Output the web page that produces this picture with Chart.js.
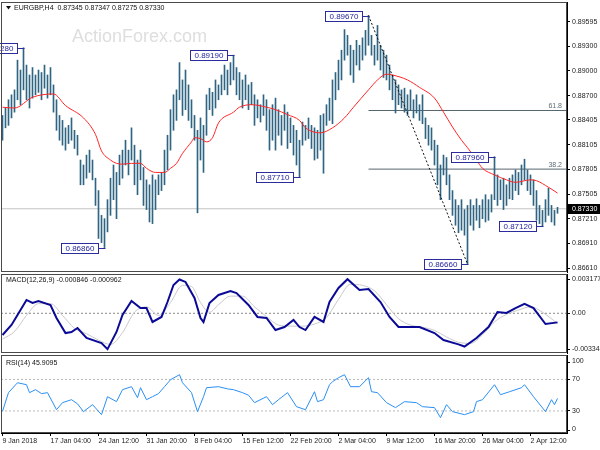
<!DOCTYPE html>
<html>
<head>
<meta charset="utf-8">
<title>EURGBP H4</title>
<script src="https://cdn.jsdelivr.net/npm/chart.js@4.4.1/dist/chart.umd.min.js"></script>
<style>
html,body{margin:0;padding:0;background:#fff;}
#wrap{position:relative;width:600px;height:450px;overflow:hidden;background:#fff;}
canvas{position:absolute;left:0;display:block;}
</style>
</head>
<body>
<div id="wrap">
<canvas id="cMain" width="600" height="273" style="top:0px"></canvas>
<canvas id="cMacd" width="600" height="82" style="top:273px"></canvas>
<canvas id="cRsi" width="600" height="95" style="top:355px"></canvas>
</div>
<script>
// ---------------- data ----------------
const symbolTitle = 'EURGBP,H4  0.87345 0.87347 0.87275 0.87330';
const watermark = 'ActionForex.com';

const xTickIdx = [0,16,32,48,64,80,96,112,128,144,160,176];
const xTickLabels = ['9 Jan 2018','17 Jan 04:00','24 Jan 12:00','31 Jan 20:00','8 Feb 04:00','15 Feb 12:00','22 Feb 20:00','2 Mar 04:00','9 Mar 12:00','16 Mar 20:00','26 Mar 04:00','2 Apr 12:00'];

const priceTicks = [0.89595,0.89300,0.89000,0.88700,0.88405,0.88105,0.87805,0.87505,0.87210,0.86910,0.86610];

const highs = [
0.8846,0.8855,0.8865,0.8871,0.8877,0.8913,0.8901,0.8928,0.8907,0.8895,
0.8904,0.8895,0.8901,0.8898,0.8907,0.8895,0.8904,0.8883,0.8865,0.8846,
0.8840,0.8831,0.8834,0.8843,0.8828,0.8822,0.8792,0.8786,0.8798,0.8804,
0.8792,0.8770,0.8755,0.8725,0.8721,0.8744,0.8770,0.8786,0.8777,0.8798,
0.8804,0.8816,0.8804,0.8831,0.8810,0.8792,0.8804,0.8783,0.8768,0.8762,
0.8774,0.8768,0.8774,0.8777,0.8804,0.8822,0.8853,0.8871,0.8877,0.8910,
0.8889,0.8901,0.8883,0.8865,0.8846,0.8828,0.8843,0.8834,0.8871,0.8879,
0.8874,0.8889,0.8883,0.8895,0.8907,0.8901,0.8910,0.8919,0.8904,0.8898,
0.8889,0.8895,0.8883,0.8886,0.8871,0.8865,0.8859,0.8871,0.8865,0.8853,
0.8859,0.8867,0.8853,0.8846,0.8859,0.8850,0.8843,0.8834,0.8828,0.8816,
0.8838,0.8834,0.8843,0.8834,0.8831,0.8828,0.8846,0.8848,0.8859,0.8867,
0.8889,0.8898,0.8913,0.8925,0.8950,0.8943,0.8931,0.8925,0.8937,0.8931,
0.8940,0.8949,0.8967,0.8943,0.8931,0.8955,0.8931,0.8925,0.8919,0.8907,
0.8895,0.8889,0.8883,0.8877,0.8879,0.8871,0.8877,0.8865,0.8871,0.8859,
0.8871,0.8843,0.8834,0.8831,0.8816,0.8810,0.8786,0.8798,0.8795,0.8774,
0.8755,0.8744,0.8737,0.8744,0.8732,0.8737,0.8744,0.8737,0.8745,0.8737,
0.8744,0.8750,0.8744,0.8750,0.8796,0.8774,0.8768,0.8770,0.8762,0.8770,
0.8774,0.8780,0.8777,0.8786,0.8793,0.8780,0.8774,0.8768,0.8755,0.8737,
0.8731,0.8744,0.8758,0.8737,0.8731,0.87347];
const lows = [
0.8816,0.8831,0.8834,0.8843,0.8850,0.8865,0.8859,0.8877,0.8865,0.8855,
0.8867,0.8871,0.8874,0.8865,0.8879,0.8867,0.8871,0.8850,0.8828,0.8816,
0.8810,0.8804,0.8812,0.8816,0.8806,0.8798,0.8762,0.8762,0.8770,0.8777,
0.8768,0.8737,0.8697,0.8692,0.8686,0.8705,0.8725,0.8744,0.8721,0.8762,
0.8770,0.8786,0.8774,0.8792,0.8762,0.8750,0.8768,0.8737,0.8732,0.8717,
0.8715,0.8732,0.8750,0.8755,0.8762,0.8780,0.8804,0.8828,0.8840,0.8865,
0.8846,0.8853,0.8840,0.8831,0.8816,0.8728,0.8792,0.8777,0.8822,0.8853,
0.8846,0.8855,0.8865,0.8871,0.8877,0.8871,0.8883,0.8889,0.8871,0.8865,
0.8855,0.8865,0.8853,0.8859,0.8834,0.8843,0.8838,0.8846,0.8828,0.8804,
0.8816,0.8804,0.8822,0.8810,0.8828,0.8806,0.8813,0.8798,0.8786,0.8771,
0.8810,0.8816,0.8818,0.8806,0.8792,0.8794,0.8804,0.8776,0.8834,0.8840,
0.8836,0.8865,0.8877,0.8889,0.8913,0.8919,0.8895,0.8886,0.8907,0.8901,
0.8913,0.8919,0.8931,0.8919,0.8907,0.8913,0.8901,0.8892,0.8889,0.8877,
0.8865,0.8849,0.8859,0.8855,0.8850,0.8846,0.8853,0.8843,0.8849,0.8840,
0.8836,0.8818,0.8810,0.8804,0.8786,0.8762,0.8744,0.8774,0.8762,0.8744,
0.8725,0.8713,0.8704,0.8707,0.8701,0.8666,0.8713,0.8707,0.8719,0.8710,
0.8721,0.8717,0.8719,0.8729,0.8744,0.8737,0.8744,0.8732,0.8737,0.8745,
0.8744,0.8755,0.8750,0.8762,0.8768,0.8755,0.8750,0.8737,0.8719,0.8715,
0.8712,0.8717,0.8725,0.8717,0.8713,0.87275];
const lastClose = 0.87330;

const maIdx = [0,4,10,17,21,27,31,33,36,38,40,43,46,48,51,54,56,58,60,63,64,66,68,70,72,77,79,83,88,91,95,99,101,106,110,114,117,122,125,128,130,135,139,144,147,150,153,155,158,160,164,168,171,176,178,182,185];
const maVal = [0.8856,0.8855,0.8868,0.8872,0.8858,0.8843,0.8823,0.8803,0.8792,0.8788,0.8787,0.8788,0.8788,0.8782,0.8777,0.8777,0.8782,0.8788,0.8800,0.8814,0.8819,0.8818,0.8814,0.8819,0.8837,0.8850,0.8856,0.8859,0.8856,0.8853,0.8847,0.8840,0.8831,0.8825,0.8831,0.8843,0.8856,0.8877,0.8889,0.8896,0.8895,0.8889,0.8880,0.8867,0.8850,0.8832,0.8816,0.8807,0.8792,0.8782,0.8774,0.8768,0.8765,0.8768,0.8767,0.8759,0.8752];

const swingIdx = [7,34,77,99,122,155,164,180];
const swingPrice = [0.89280,0.86860,0.89190,0.87710,0.89670,0.86660,0.87960,0.87120];

const fibFromIdx = 122, fibToIdx = 155;
const fibHigh = 0.89670, fibLow = 0.86660;
const fibLevelNames = ['61.8','38.2'];
const fibLevelPrices = [0.88520,0.87810];

const macdIdx = [0,3,5,8,10,12,16,18,21,23,25,28,33,35,38,40,43,46,48,50,53,55,57,59,61,64,66,67,69,72,76,78,82,85,88,91,94,97,99,101,104,107,109,112,115,119,122,126,129,132,136,139,144,147,152,154,158,162,165,168,171,174,177,181,185];
const macdVal = [-0.00202,-0.00109,-0.00016,0.00124,0.00096,0.00115,0.00077,-0.00044,-0.00184,-0.00174,-0.00137,-0.00230,-0.00277,-0.003344,-0.00174,-0.00016,0.00115,0.00049,0.00049,-0.00081,-0.00034,0.00105,0.00264,0.00315,0.00292,0.00143,-0.00044,-0.00081,0.00096,0.00171,0.00208,0.00189,0.00077,-0.00034,-0.00044,-0.00156,-0.00128,-0.00062,-0.00128,-0.00156,-0.00034,-0.00081,0.00105,0.00236,0.003177,0.00217,0.00226,0.00105,-0.00034,-0.00128,-0.00128,-0.00128,-0.00184,-0.00249,-0.00290,-0.00310,-0.00230,-0.00128,0.00012,0.00003,0.00049,0.00087,0.00049,-0.00100,-0.000846];
const sigIdx = [0,4,8,12,16,20,24,28,32,36,40,44,48,52,56,60,63,66,69,72,76,80,84,88,92,96,100,104,108,112,116,120,124,128,132,136,140,144,148,152,156,160,164,168,172,176,180,185];
const sigVal = [-0.0024,-0.0017,-0.0002,0.0009,0.0009,-0.0002,-0.0014,-0.0019,-0.0025,-0.0029,-0.0018,0.0001,0.0006,-0.0002,0.0010,0.0026,0.0025,0.0010,0.0001,0.0008,0.0016,0.0016,0.0006,-0.0003,-0.0011,-0.0012,-0.0012,-0.0010,-0.0004,0.0013,0.0027,0.0026,0.0021,0.0008,-0.0005,-0.0011,-0.0013,-0.0016,-0.0022,-0.0027,-0.0028,-0.0020,-0.0008,-0.0001,0.0003,0.0006,0.0001,-0.000962];
const macdTicks = [0.003177,0,-0.003344];
const macdTickLabels = ['0.003177','0.00','-0.003344'];
const macdTitle = 'MACD(12,26,9) -0.000846 -0.000962';

const rsiIdx = [0,2,5,8,9,11,13,15,18,20,23,25,27,30,33,35,38,40,43,45,46,48,50,52,54,56,59,60,63,65,67,68,72,75,77,80,82,84,88,90,92,95,98,101,104,105,107,109,110,112,114,116,119,122,123,125,128,131,134,138,140,144,146,148,150,154,157,158,160,164,166,169,173,174,177,181,183,184,185];
const rsiVal = [29.5,53.2,65.8,63.3,53.2,57.0,52,53.2,31.6,40.5,44.3,39,29.1,38.0,25.3,48.1,41.8,57.0,60.8,46.8,59.5,44.3,48.1,52,60.8,69.6,76.0,65.8,53.2,29.1,48.1,59.5,60.8,58,57.0,53.2,50,40.5,48.1,38.0,44.3,53.2,35.4,31.6,54.4,41.8,44.3,63.3,67.1,72.2,76.0,60.8,60.8,72.2,54.4,53.2,40.5,34.2,41.8,40.5,35.4,34.2,21.5,38.0,29.1,25.3,29.1,41.8,44.3,63.3,50.6,54.4,59.5,63.3,48.1,29.1,44.3,38.0,45.9095];
const rsiLevels = [70,30];
const rsiEdgeLabels = ['100','0'];
const rsiTitle = 'RSI(14) 45.9095';

// ---------------- setup ----------------
const F = '"Liberation Sans", Arial, sans-serif';
const X_MIN = -0.5, X_MAX = 566 / 3 - 0.5;
const pts = (xs, ys) => xs.map((x, k) => ({x: x, y: ys[k]}));
const hline = (y, x0, x1) => [{x: x0, y: y}, {x: x1, y: y}];
const barData = highs.map((h, i) => ({x: i, y: [lows[i], h]}));

const frame = {
  id: 'frame',
  afterDraw(chart) {
    const a = chart.chartArea, c = chart.ctx;
    c.save();
    c.strokeStyle = '#4a4a4a'; c.lineWidth = 1;
    c.strokeRect(Math.round(a.left) + 0.5, Math.round(a.top) + 0.5, Math.round(a.right - a.left) - 1, Math.round(a.bottom - a.top) - 1);
    c.restore();
  }
};

const noPad = s => { s.paddingTop = 0; s.paddingBottom = 0; s.paddingLeft = 0; s.paddingRight = 0; };
const yAxisBase = (extra) => Object.assign({
  type: 'linear', position: 'right',
  afterFit: s => { s.width = 33; noPad(s); },
  grid: {drawOnChartArea: false, drawTicks: true, tickLength: 3, color: '#000'},
  border: {display: true, color: '#000'},
}, extra);
const tickFont = {size: 7, family: F};

const mainOverlay = {
  id: 'mainOverlay',
  beforeDatasetsDraw(chart) {
    const c = chart.ctx;
    c.save();
    c.font = '18px ' + F; c.fillStyle = '#dedede';
    c.textBaseline = 'middle'; c.textAlign = 'left';
    c.fillText(watermark, 72, 37);
    c.restore();
  },
  afterDatasetsDraw(chart) {
    const c = chart.ctx, xs = chart.scales.x, ys = chart.scales.y, a = chart.chartArea;
    c.save();
    // swing labels
    c.font = '8px ' + F; c.textBaseline = 'middle'; c.textAlign = 'left';
    swingIdx.forEach((idx, k) => {
      const bx = Math.round(xs.getPixelForValue(idx));
      const by = Math.round(ys.getPixelForValue(swingPrice[k])) + 0.5;
      const txt = swingPrice[k].toFixed(5);
      const w = Math.round(c.measureText(txt).width + 8), h = 10;
      const right = bx - 7;
      c.strokeStyle = '#2c2c9c'; c.lineWidth = 1;
      c.beginPath(); c.moveTo(right, by); c.lineTo(bx + 0.5, by); c.stroke();
      c.fillStyle = '#ffffff';
      c.fillRect(right - w + 0.5, by - h / 2, w, h);
      c.strokeRect(right - w + 0.5, by - h / 2, w, h);
      c.fillStyle = '#2424a0';
      c.fillText(txt, right - w + 4.5, by + 0.5);
    });
    // fib labels
    c.font = '7px ' + F; c.fillStyle = '#5b6b73'; c.textAlign = 'right'; c.textBaseline = 'bottom';
    fibLevelPrices.forEach((p, k) => {
      c.fillText(fibLevelNames[k], a.right - 5, ys.getPixelForValue(p) - 1);
    });
    // title
    c.fillStyle = '#111'; c.textAlign = 'left'; c.textBaseline = 'middle';
    c.beginPath(); c.moveTo(6, 6); c.lineTo(11, 6); c.lineTo(8.5, 9.5); c.closePath(); c.fill();
    c.font = '7px ' + F;
    c.fillText(symbolTitle, 14, 8);
    c.restore();
  },
  afterDraw(chart) {
    const c = chart.ctx, ys = chart.scales.y;
    const py = Math.round(ys.getPixelForValue(lastClose));
    c.save();
    c.fillStyle = '#000';
    c.fillRect(ys.left, py - 5, chart.width - ys.left, 10);
    c.fillStyle = '#fff'; c.font = '7px ' + F; c.textBaseline = 'middle'; c.textAlign = 'left';
    c.fillText(lastClose.toFixed(5), ys.left + 5, py + 0.5);
    c.restore();
  }
};

new Chart(document.getElementById('cMain'), {
  type: 'bar',
  data: {
    datasets: [
      {type: 'line', data: hline(lastClose, X_MIN, X_MAX), borderColor: '#c4c4c4', borderWidth: 1, pointRadius: 0, order: 6},
      {type: 'line', data: hline(fibLevelPrices[0], fibFromIdx, X_MAX), borderColor: '#56666e', borderWidth: 1, pointRadius: 0, order: 5},
      {type: 'line', data: hline(fibLevelPrices[1], fibFromIdx, X_MAX), borderColor: '#56666e', borderWidth: 1, pointRadius: 0, order: 5},
      {type: 'bar', data: barData, backgroundColor: '#2f6482', barThickness: 1, borderWidth: 0, grouped: false, order: 4},
      {type: 'line', data: pts(maIdx, maVal), borderColor: '#ff2626', borderWidth: 1, pointRadius: 0, cubicInterpolationMode: 'monotone', order: 3},
      {type: 'line', data: [{x: fibFromIdx, y: fibHigh}, {x: fibToIdx, y: fibLow}], borderColor: '#111', borderWidth: 1, borderDash: [2, 2], pointRadius: 0, order: 2}
    ]
  },
  options: {
    responsive: false, devicePixelRatio: 1, animation: false,
    layout: {padding: {left: 1, top: 2, bottom: 1, right: 0}},
    plugins: {legend: {display: false}, tooltip: {enabled: false}},
    scales: {
      x: {type: 'linear', min: X_MIN, max: X_MAX, display: false, offset: false},
      y: yAxisBase({
        min: 0.86564, max: 0.89834,
        afterBuildTicks: s => { s.ticks = priceTicks.map(v => ({value: v})); },
        ticks: {font: tickFont, color: '#222', padding: 2, autoSkip: false, callback: v => Number(v).toFixed(5)}
      })
    }
  },
  plugins: [mainOverlay, frame]
});

const macdOverlay = {
  id: 'macdOverlay',
  afterDatasetsDraw(chart) {
    const c = chart.ctx, a = chart.chartArea;
    c.save();
    c.font = '7px ' + F; c.fillStyle = '#111'; c.textBaseline = 'middle'; c.textAlign = 'left';
    c.fillText(macdTitle, 6, a.top + 6);
    c.restore();
  }
};

new Chart(document.getElementById('cMacd'), {
  type: 'line',
  data: {
    datasets: [
      {data: hline(0, X_MIN, X_MAX), borderColor: '#8a8a8a', borderWidth: 1, borderDash: [2, 2], pointRadius: 0, order: 3},
      {data: pts(sigIdx, sigVal), borderColor: '#c8c8c8', borderWidth: 1, pointRadius: 0, cubicInterpolationMode: 'monotone', order: 2},
      {data: pts(macdIdx, macdVal), borderColor: '#0a0a96', borderWidth: 2, pointRadius: 0, order: 1}
    ]
  },
  options: {
    responsive: false, devicePixelRatio: 1, animation: false,
    layout: {padding: {left: 1, top: 1, bottom: 2, right: 0}},
    plugins: {legend: {display: false}, tooltip: {enabled: false}},
    scales: {
      x: {type: 'linear', min: X_MIN, max: X_MAX, display: false, offset: false},
      y: yAxisBase({
        min: -0.00370, max: 0.00366,
        afterBuildTicks: s => { s.ticks = macdTicks.map(v => ({value: v})); },
        ticks: {font: tickFont, color: '#222', padding: 2, autoSkip: false, callback: (v, i) => macdTickLabels[i]}
      })
    }
  },
  plugins: [macdOverlay, frame]
});

const rsiOverlay = {
  id: 'rsiOverlay',
  afterDatasetsDraw(chart) {
    const c = chart.ctx, a = chart.chartArea;
    c.save();
    c.font = '7px ' + F; c.fillStyle = '#111'; c.textBaseline = 'middle'; c.textAlign = 'left';
    c.fillText(rsiTitle, 6, a.top + 8);
    c.restore();
  },
  afterDraw(chart) {
    const c = chart.ctx, a = chart.chartArea, ys = chart.scales.y;
    c.save();
    c.font = '7px ' + F; c.fillStyle = '#222'; c.textBaseline = 'middle'; c.textAlign = 'left';
    c.strokeStyle = '#000'; c.lineWidth = 1;
    const edges = [a.top + 6.5, a.bottom - 3.5];
    rsiEdgeLabels.forEach((t, k) => {
      c.beginPath(); c.moveTo(ys.left, Math.round(edges[k]) + 0.5); c.lineTo(ys.left + 3, Math.round(edges[k]) + 0.5); c.stroke();
      c.fillText(t, ys.left + 5, edges[k]);
    });
    c.restore();
  }
};

new Chart(document.getElementById('cRsi'), {
  type: 'line',
  data: {
    datasets: [
      {data: hline(rsiLevels[0], X_MIN, X_MAX), borderColor: '#b8b8b8', borderWidth: 1, borderDash: [2, 2], pointRadius: 0, order: 3},
      {data: hline(rsiLevels[1], X_MIN, X_MAX), borderColor: '#b8b8b8', borderWidth: 1, borderDash: [2, 2], pointRadius: 0, order: 3},
      {data: pts(rsiIdx, rsiVal), borderColor: '#2a8ff5', borderWidth: 1, pointRadius: 0, order: 1}
    ]
  },
  options: {
    responsive: false, devicePixelRatio: 1, animation: false,
    layout: {padding: {left: 1, top: 0, bottom: 0, right: 0}},
    plugins: {legend: {display: false}, tooltip: {enabled: false}},
    scales: {
      x: {
        type: 'linear', min: X_MIN, max: X_MAX, offset: false, position: 'bottom',
        afterBuildTicks: s => { s.ticks = xTickIdx.map(v => ({value: v})); },
        afterFit: s => { s.height = 17; noPad(s); },
        grid: {drawOnChartArea: false, drawTicks: true, tickLength: 3, color: '#000'},
        border: {display: true, color: '#000'},
        ticks: {autoSkip: false, maxRotation: 0, minRotation: 0, align: 'start', font: tickFont, color: '#222', padding: 1, callback: (v, i) => xTickLabels[i]}
      },
      y: yAxisBase({
        min: 2, max: 101,
        afterBuildTicks: s => { s.ticks = rsiLevels.map(v => ({value: v})); },
        ticks: {font: tickFont, color: '#222', padding: 2, autoSkip: false, callback: v => String(v)}
      })
    }
  },
  plugins: [rsiOverlay, frame]
});
</script>
</body>
</html>
